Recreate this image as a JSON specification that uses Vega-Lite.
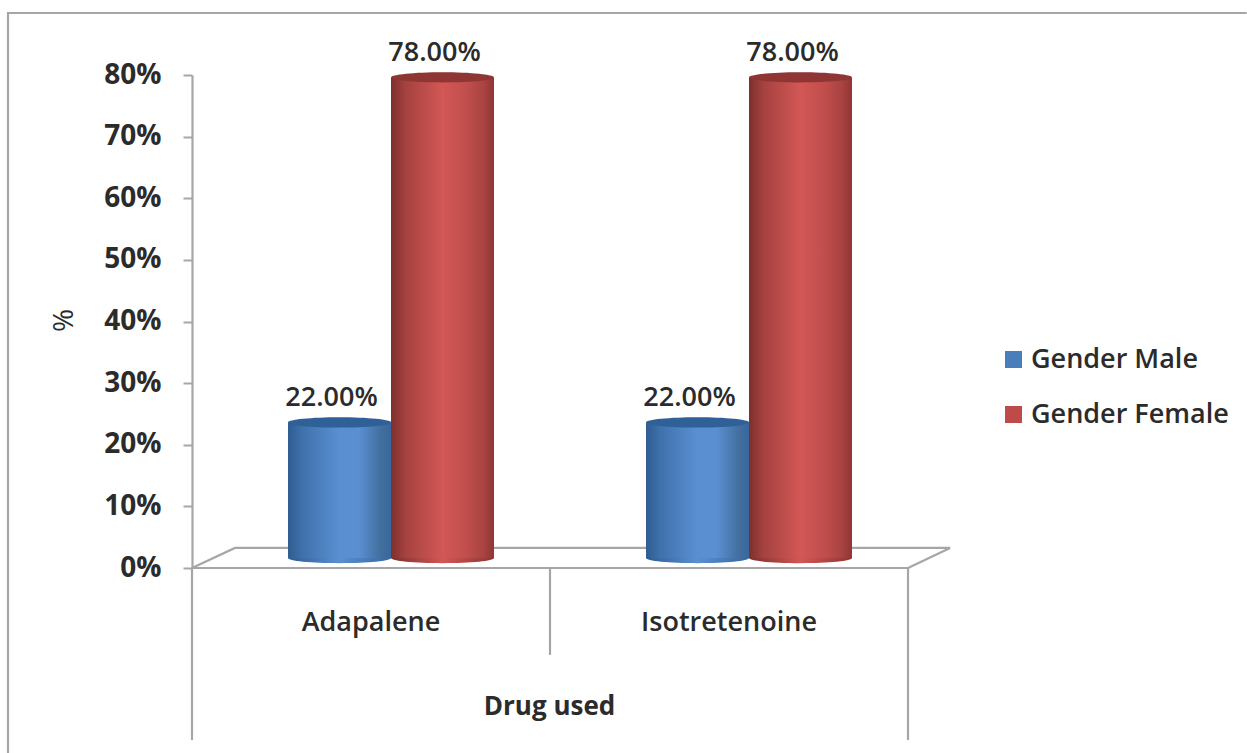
{
  "$schema": "https://vega.github.io/schema/vega-lite/v6.json",
  "width": 716,
  "height": 493,
  "autosize": "none",
  "padding": {"left": 192, "top": 75, "right": 339, "bottom": 185},
  "background": "#ffffff",
  "config": {"font": "Open Sans", "view": {"stroke": null}},
  "datasets": {
    "results": [
      {"drug": "Adapalene", "gender": "Gender Male", "pct": 22, "label": "22.00%"},
      {"drug": "Adapalene", "gender": "Gender Female", "pct": 78, "label": "78.00%"},
      {"drug": "Isotretenoine", "gender": "Gender Male", "pct": 22, "label": "22.00%"},
      {"drug": "Isotretenoine", "gender": "Gender Female", "pct": 78, "label": "78.00%"}
    ],
    "frame": [
      {"path": "border", "step": 0, "across": -0.257, "level": -30},
      {"path": "border", "step": 1, "across": -0.257, "level": 90.06},
      {"path": "border", "step": 2, "across": 1.473, "level": 90.06},
      {"path": "floorFront", "step": 0, "across": 0, "level": 0},
      {"path": "floorFront", "step": 1, "across": 1, "level": 0},
      {"path": "floorOutline", "step": 0, "across": 0, "level": 0},
      {"path": "floorOutline", "step": 1, "across": 0.06, "level": 3.25},
      {"path": "floorOutline", "step": 2, "across": 1.0587, "level": 3.25},
      {"path": "floorOutline", "step": 3, "across": 1, "level": 0},
      {"path": "dividerLeft", "step": 0, "across": 0, "level": 0},
      {"path": "dividerLeft", "step": 1, "across": 0, "level": -27.9},
      {"path": "dividerMiddle", "step": 0, "across": 0.5, "level": 0},
      {"path": "dividerMiddle", "step": 1, "across": 0.5, "level": -14.1},
      {"path": "dividerRight", "step": 0, "across": 1, "level": 0},
      {"path": "dividerRight", "step": 1, "across": 1, "level": -27.9}
    ]
  },
  "resolve": {"scale": {"x": "independent"}},
  "layer": [
    {
      "data": {"name": "frame"},
      "mark": {"type": "line", "color": "#a6a6a6", "strokeWidth": 2.2, "clip": false},
      "encoding": {
        "x": {"field": "across", "type": "quantitative", "axis": null, "scale": {"domain": [0, 1], "zero": false, "nice": false}},
        "y": {
          "field": "level", "type": "quantitative", "scale": {"domain": [0, 80], "nice": false},
          "axis": {
            "title": "%", "titleFontSize": 28, "titleFontWeight": 500, "titleColor": "#2b2b2b", "titleX": -114, "titleY": 245,
            "values": [0, 10, 20, 30, 40, 50, 60, 70, 80], "labelExpr": "datum.value + '%'",
            "labelFontSize": 28, "labelFontWeight": "bold", "labelColor": "#2b2b2b", "labelPadding": 22,
            "tickSize": 9, "tickWidth": 2, "tickColor": "#a6a6a6", "domainColor": "#a6a6a6", "domainWidth": 2.2, "grid": false
          }
        },
        "detail": {"field": "path"},
        "order": {"field": "step", "type": "quantitative"}
      }
    },
    {
      "data": {"name": "results"},
      "encoding": {
        "x": {
          "field": "drug", "type": "nominal", "sort": null,
          "scale": {"domain": ["Adapalene", "Isotretenoine"], "range": [20, 736], "paddingInner": 0, "paddingOuter": 0},
          "axis": {
            "title": "Drug used", "titleFontSize": 26, "titleFontWeight": "bold", "titleColor": "#2b2b2b", "titleX": 357, "titleY": 125,
            "labelAngle": 0, "labelFontSize": 27, "labelFontWeight": 600, "labelColor": "#2b2b2b", "labelPadding": 41, "labelOffset": -20,
            "ticks": false, "domain": false, "grid": false
          }
        },
        "xOffset": {
          "field": "gender", "type": "nominal", "sort": null,
          "scale": {"domain": ["Gender Male", "Gender Female"], "paddingInner": 0, "paddingOuter": 0.738}
        },
        "y": {"field": "pct", "type": "quantitative", "scale": {"domain": [0, 80], "nice": false}}
      },
      "layer": [
        {
          "mark": {"type": "bar", "yOffset": -10, "y2Offset": -10, "opacity": 0},
          "encoding": {
            "color": {
              "field": "gender", "type": "nominal", "sort": null,
              "scale": {"domain": ["Gender Male", "Gender Female"], "range": ["#4a7ebb", "#be4b48"]},
              "legend": {
                "title": null, "orient": "none", "legendX": 808, "legendY": 271,
                "symbolType": "square", "symbolSize": 289, "symbolOpacity": 1, "symbolStrokeWidth": 0,
                "labelFontSize": 27, "labelFontWeight": 600, "labelColor": "#2b2b2b", "labelOffset": 4, "rowPadding": 27,
                "labelLimit": 300
              }
            }
          }
        },
        {
          "transform": [{"filter": "datum.gender === 'Gender Male'"}],
          "layer": [
            {
              "mark": {"type": "point", "filled": true, "opacity": 1, "size": 10609, "yOffset": -10,
                "shape": "M-1,0 A1,0.1 0 1,1 1,0 A1,0.1 0 1,1 -1,0 Z",
                "fill": {"x1": 0, "x2": 1, "y1": 0, "y2": 0, "gradient": "linear", "stops": [
                  {"offset": 0, "color": "#2f5c90"}, {"offset": 0.5, "color": "#5a90d2"}, {"offset": 1, "color": "#38679d"}]}},
              "encoding": {"y": {"datum": 0, "type": "quantitative"}}
            },
            {
              "mark": {"type": "bar", "yOffset": -10, "y2Offset": -10,
                "color": {"x1": 0, "x2": 1, "y1": 0, "y2": 0, "gradient": "linear", "stops": [
                  {"offset": 0, "color": "#2f5c90"}, {"offset": 0.14, "color": "#3f71ac"}, {"offset": 0.5, "color": "#5a90d2"},
                  {"offset": 0.68, "color": "#5a90d2"}, {"offset": 0.9, "color": "#426f9f"}, {"offset": 1, "color": "#38679d"}]}}
            },
            {
              "mark": {"type": "point", "filled": true, "opacity": 1, "size": 10609, "yOffset": -10, "color": "#2f6097",
                "shape": "M-1,0 A1,0.1 0 1,1 1,0 A1,0.1 0 1,1 -1,0 Z"}
            }
          ]
        },
        {
          "transform": [{"filter": "datum.gender === 'Gender Female'"}],
          "layer": [
            {
              "mark": {"type": "point", "filled": true, "opacity": 1, "size": 10609, "yOffset": -10,
                "shape": "M-1,0 A1,0.1 0 1,1 1,0 A1,0.1 0 1,1 -1,0 Z",
                "fill": {"x1": 0, "x2": 1, "y1": 0, "y2": 0, "gradient": "linear", "stops": [
                  {"offset": 0, "color": "#7d2f2e"}, {"offset": 0.5, "color": "#d25755"}, {"offset": 1, "color": "#8f3533"}]}},
              "encoding": {"y": {"datum": 0, "type": "quantitative"}}
            },
            {
              "mark": {"type": "bar", "yOffset": -10, "y2Offset": -10,
                "color": {"x1": 0, "x2": 1, "y1": 0, "y2": 0, "gradient": "linear", "stops": [
                  {"offset": 0, "color": "#7d2f2e"}, {"offset": 0.14, "color": "#a54240"}, {"offset": 0.5, "color": "#d25755"},
                  {"offset": 0.72, "color": "#c24f4d"}, {"offset": 0.9, "color": "#a94341"}, {"offset": 1, "color": "#8f3533"}]}}
            },
            {
              "mark": {"type": "point", "filled": true, "opacity": 1, "size": 10609, "yOffset": -10, "color": "#8f3533",
                "shape": "M-1,0 A1,0.1 0 1,1 1,0 A1,0.1 0 1,1 -1,0 Z"}
            }
          ]
        },
        {
          "mark": {"type": "text", "fontSize": 27, "fontWeight": 600, "color": "#2b2b2b", "dx": -8, "yOffset": -34, "baseline": "middle"},
          "encoding": {"text": {"field": "label", "type": "nominal"}}
        }
      ]
    }
  ]
}
